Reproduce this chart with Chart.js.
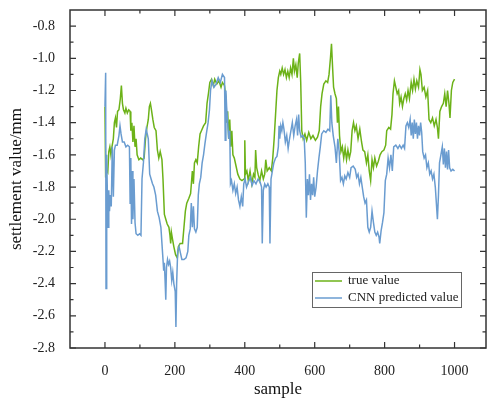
<!DOCTYPE html>
<html>
<head>
<meta charset="utf-8">
<script src="https://cdn.jsdelivr.net/npm/chart.js@4.4.1/dist/chart.umd.min.js"></script>
<style>
html, body { margin: 0; padding: 0; background: #fff; }
</style>
</head>
<body>
<canvas id="chart" width="487" height="401"></canvas>
<script>
const xTicks = [0, 200, 400, 600, 800, 1000];
const yTicks = [-2.8, -2.6, -2.4, -2.2, -2.0, -1.8, -1.6, -1.4, -1.2, -1.0, -0.8];

const trueX = [0, 2, 5, 8, 11, 14, 17, 20, 24, 27, 30, 33, 36, 40, 44, 47, 50, 53, 57, 60, 64, 68, 72, 74, 77, 80, 83, 86, 89, 92, 97, 102, 108, 112, 116, 120, 124, 127, 130, 133, 137, 141, 146, 150, 154, 158, 163,
  166, 170, 174, 178, 183, 186, 188, 190, 193, 197, 202, 207, 210, 215, 222, 226, 230, 234, 240, 245, 250, 253, 256, 260, 264, 268, 272, 276, 282, 288, 292, 296, 300, 305, 310, 314, 320, 326, 332, 336, 342,
  346, 348, 351, 354, 357, 360, 363, 366, 370, 374, 380, 386, 392, 398, 400, 402, 406, 410, 415, 420, 425, 429, 431, 434, 438, 443, 448, 453, 457, 460, 464, 470, 476, 480, 484, 488, 492, 496, 500,
  503, 507, 511, 515, 519, 523, 527, 531, 535, 539, 542, 546, 550, 553, 557, 560, 563, 567, 572, 577, 583, 589, 595, 602, 608, 613, 617, 621, 626, 632, 637, 641, 645, 648, 651, 654, 658, 662, 665, 668, 671,
  675, 679, 683, 687, 691, 695, 699, 703, 707, 711, 715, 719, 724, 729, 734, 738, 743, 748, 752, 756, 760, 764, 768, 772, 777, 782, 787, 792, 798, 803, 806, 812, 817, 821, 824, 828, 832, 836, 840, 843,
  847, 851, 855, 859, 863, 867, 871, 876, 880, 884, 888, 892, 897, 901, 904, 908, 913, 918, 923, 927, 932, 937, 942, 947, 951, 954, 958, 963, 968, 972, 976, 980, 984, 987, 991, 995, 1000];
const trueY = [-1.30, -1.74, -1.70, -1.71, -1.58, -1.55, -1.60, -1.55, -1.50, -1.40, -1.37, -1.43, -1.33, -1.32, -1.25, -1.17, -1.28, -1.32, -1.34, -1.31, -1.34, -1.32, -1.33, -1.45, -1.40, -1.52, -1.42, -1.55, -1.50, -1.60, -1.63, -1.62, -1.63, -1.62, -1.50, -1.43, -1.38, -1.30, -1.28, -1.32, -1.38, -1.43, -1.45, -1.57, -1.62, -1.58, -1.63,
  -1.75, -1.97, -2.00, -2.03, -2.05, -2.10, -2.15, -2.08, -2.12, -2.17, -2.22, -2.24, -2.17, -2.15, -2.15, -2.05, -1.95, -1.90, -1.87, -1.84, -1.70, -1.78, -1.65, -1.63, -1.65, -1.55, -1.47, -1.45, -1.42, -1.40, -1.28, -1.22, -1.15, -1.13, -1.17, -1.13, -1.16, -1.14, -1.18, -1.15, -1.17,
  -1.25, -1.40, -1.33, -1.50, -1.38, -1.55, -1.45, -1.60, -1.62, -1.66, -1.72, -1.75, -1.76, -1.75, -1.51, -1.72, -1.70, -1.76, -1.70, -1.78, -1.72, -1.74, -1.57, -1.68, -1.72, -1.76, -1.70, -1.75, -1.72, -1.63, -1.70, -1.68, -1.70, -1.62, -1.50, -1.35, -1.20, -1.12, -1.08,
  -1.10, -1.06, -1.10, -1.07, -1.12, -1.08, -1.12, -1.06, -1.10, -1.00, -1.08, -1.04, -1.12, -1.03, -0.97, -1.15, -1.45, -1.50, -1.47, -1.51, -1.46, -1.50, -1.48, -1.51, -1.49, -1.45, -1.30, -1.22, -1.16, -1.14, -1.15, -1.10, -1.00, -0.91, -1.05, -1.18, -1.22, -1.25, -1.40, -1.30, -1.48,
  -1.58, -1.55, -1.62, -1.56, -1.63, -1.57, -1.62, -1.58, -1.45, -1.40, -1.45, -1.42, -1.50, -1.44, -1.52, -1.57, -1.58, -1.65, -1.60, -1.70, -1.76, -1.63, -1.68, -1.62, -1.67, -1.64, -1.60, -1.58, -1.57, -1.54, -1.45, -1.43, -1.44, -1.35, -1.22, -1.14, -1.18, -1.22, -1.20, -1.28,
  -1.24, -1.30, -1.25, -1.22, -1.26, -1.20, -1.25, -1.15, -1.20, -1.13, -1.19, -1.14, -1.18, -1.07, -1.10, -1.20, -1.18, -1.24, -1.20, -1.38, -1.40, -1.37, -1.42, -1.38, -1.43, -1.50, -1.33, -1.30, -1.28, -1.22, -1.30, -1.20, -1.28, -1.37, -1.20, -1.15, -1.13];

const predX = [0, 2, 3, 5, 7, 9, 11, 13, 15, 18, 21, 24, 27, 30, 35, 40, 43, 46, 50, 55, 60, 65, 70, 72, 74, 76, 78, 80, 83, 86, 89, 94, 99, 103, 106, 110, 114, 118, 121, 124, 128, 132, 136, 140, 145, 150, 155,
  160, 163, 166, 168, 170, 172, 174, 176, 179, 182, 185, 188, 191, 194, 197, 201, 203, 205, 208, 212, 216, 220, 226, 232, 237, 240, 244, 247, 250, 253, 256, 260, 264, 267, 270, 274, 278, 282, 286, 290, 295, 299, 302, 306, 312, 318, 324, 330, 336, 342,
  344, 346, 348, 351, 354, 357, 359, 362, 366, 370, 374, 378, 382, 386, 390, 394, 397, 401, 405, 410, 416, 421, 426, 432, 438, 444, 448, 450, 453, 457, 461, 466, 470, 472, 475, 479, 483, 488, 492, 496, 498, 500,
  503, 506, 509, 512, 516, 520, 524, 528, 532, 536, 540, 544, 548, 551, 554, 557, 561, 566, 570, 573, 576, 579, 582, 585, 588, 591, 594, 597, 600, 604, 608, 612, 616, 620, 626, 632, 638, 643, 646, 649, 653, 658, 662, 666,
  670, 674, 678, 682, 686, 690, 695, 700, 704, 710, 716, 720, 724, 728, 732, 736, 740, 744, 748, 752, 756, 760, 764, 768, 772, 776, 780, 784, 786, 790, 794, 798, 802, 806, 810, 814, 818, 822, 826, 832, 838, 843,
  848, 853, 857, 861, 865, 869, 873, 876, 879, 882, 885, 888, 891, 894, 897, 900, 903, 906, 909, 913, 917, 921, 925, 929, 933, 937, 941, 945, 948, 951, 954, 957, 961, 965, 968, 971, 974, 977, 980, 983, 986, 990, 995, 1000];
const predY = [-1.30, -1.09, -2.43, -1.60, -1.85, -2.05, -1.82, -1.95, -1.85, -1.92, -1.55, -1.86, -1.57, -1.54, -1.54, -1.48, -1.42, -1.47, -1.52, -1.52, -1.55, -1.54, -1.55, -1.90, -1.62, -2.03, -1.70, -2.00, -1.75, -2.02, -2.09, -2.10, -2.09, -2.10, -1.75, -1.65, -1.50, -1.44, -1.47, -1.50, -1.72, -1.75, -1.78, -1.80, -1.85, -1.95, -1.99,
  -2.05, -2.15, -2.25, -2.32, -2.27, -2.38, -2.50, -2.30, -2.25, -2.28, -2.26, -2.30, -2.38, -2.33, -2.40, -2.45, -2.67, -2.40, -2.20, -2.17, -2.21, -2.25, -2.25, -2.24, -2.20, -2.10, -2.06, -1.90, -2.05, -1.92, -2.06, -2.08, -2.05, -1.85, -1.78, -1.74, -1.65, -1.60, -1.53, -1.47, -1.40, -1.32, -1.20, -1.14, -1.18, -1.16, -1.12, -1.15, -1.10, -1.12,
  -1.51, -1.20, -1.30, -1.40, -1.50, -1.45, -1.78, -1.76, -1.82, -1.78, -1.84, -1.80, -1.88, -1.92, -1.86, -1.92, -1.78, -1.75, -1.80, -1.77, -1.74, -1.79, -1.76, -1.78, -1.75, -1.77, -1.80, -2.15, -1.82, -1.78, -1.80, -1.78, -1.80, -2.15, -1.75, -1.70, -1.65, -1.62, -1.61, -1.55, -1.42, -1.50,
  -1.42, -1.45, -1.40, -1.44, -1.52, -1.48, -1.56, -1.50, -1.45, -1.40, -1.48, -1.42, -1.38, -1.48, -1.35, -1.45, -1.49, -1.48, -1.50, -1.65, -1.99, -1.75, -1.85, -1.72, -1.88, -1.78, -1.85, -1.74, -1.86, -1.80, -1.70, -1.62, -1.55, -1.47, -1.45, -1.46, -1.44, -1.45, -1.23, -1.40, -1.48, -1.55, -1.65, -1.50,
  -1.58, -1.76, -1.74, -1.78, -1.73, -1.75, -1.71, -1.74, -1.68, -1.67, -1.69, -1.74, -1.72, -1.78, -1.74, -1.80, -1.86, -1.90, -1.88, -2.05, -2.08, -2.05, -1.95, -2.02, -2.08, -2.10, -2.08, -2.11, -2.15, -2.07, -2.02, -1.96, -1.76, -1.72, -1.62, -1.68, -1.60, -1.70, -1.55, -1.54, -1.56, -1.54,
  -1.56, -1.54, -1.56, -1.42, -1.40, -1.43, -1.38, -1.48, -1.40, -1.50, -1.38, -1.47, -1.40, -1.50, -1.42, -1.48, -1.40, -1.46, -1.58, -1.62, -1.60, -1.68, -1.65, -1.72, -1.70, -1.75, -1.72, -1.80, -1.90, -2.00, -1.85, -1.65, -1.60, -1.55, -1.66, -1.56, -1.68, -1.58, -1.69, -1.57, -1.68, -1.70, -1.69, -1.70];

const seriesNames = ['true value', 'CNN predicted value'];
const seriesColors = ['#6cb218', '#6a9cd0'];

const serif = 'Liberation Serif, Times New Roman, serif';

// frame, inward ticks on all four sides, and the boxed legend
const framePlugin = {
    id: 'frame',
    afterDatasetsDraw(chart) {
        const { ctx, chartArea: a, scales: { x, y } } = chart;
        ctx.save();
        ctx.strokeStyle = '#333';
        ctx.lineWidth = 1.5;
        ctx.strokeRect(a.left, a.top, a.right - a.left, a.bottom - a.top);

        ctx.lineWidth = 1.2;
        ctx.beginPath();
        for (let v = 0; v <= 1000; v += 100) {
            const p = x.getPixelForValue(v);
            const len = v % 200 === 0 ? 6 : 3.5;
            ctx.moveTo(p, a.bottom); ctx.lineTo(p, a.bottom - len);
            ctx.moveTo(p, a.top); ctx.lineTo(p, a.top + len);
        }
        for (let i = 0; i <= 20; i++) {
            const v = -2.8 + i * 0.1;
            const p = y.getPixelForValue(v);
            const len = i % 2 === 0 ? 6 : 3.5;
            ctx.moveTo(a.left, p); ctx.lineTo(a.left + len, p);
            ctx.moveTo(a.right, p); ctx.lineTo(a.right - len, p);
        }
        ctx.stroke();

        // legend box
        const bx = a.left + 242, by = a.top + 262, bw = 149, bh = 35;
        ctx.fillStyle = '#fff';
        ctx.fillRect(bx, by, bw, bh);
        ctx.strokeStyle = '#666';
        ctx.lineWidth = 1;
        ctx.strokeRect(bx + 0.5, by + 0.5, bw, bh);
        ctx.font = '13px ' + serif;
        ctx.textBaseline = 'middle';
        seriesNames.forEach((name, i) => {
            const ly = by + 9 + i * 17;
            ctx.strokeStyle = seriesColors[i];
            ctx.lineWidth = 1.5;
            ctx.beginPath();
            ctx.moveTo(bx + 3, ly); ctx.lineTo(bx + 30, ly);
            ctx.stroke();
            ctx.fillStyle = '#222';
            ctx.fillText(name, bx + 36, ly);
        });
        ctx.restore();
    }
};

const toPoints = (xs, ys) => xs.map((v, i) => ({ x: v, y: ys[i] }));

new Chart(document.getElementById('chart').getContext('2d'), {
    type: 'line',
    data: {
        datasets: [{
            label: seriesNames[0],
            data: toPoints(trueX, trueY),
            borderColor: seriesColors[0],
            borderWidth: 1.5,
            pointRadius: 0,
            tension: 0,
            order: 1
        }, {
            label: seriesNames[1],
            data: toPoints(predX, predY),
            borderColor: seriesColors[1],
            borderWidth: 1.5,
            pointRadius: 0,
            tension: 0,
            order: 0
        }]
    },
    options: {
        responsive: false,
        animation: false,
        layout: { padding: { top: 10, right: 1, left: 0, bottom: 0 } },
        plugins: { legend: { display: false }, tooltip: { enabled: false } },
        scales: {
            x: {
                type: 'linear',
                min: -100,
                max: 1090,
                afterBuildTicks: (s) => { s.ticks = xTicks.map(v => ({ value: v })); },
                afterFit: (s) => { s.height = 53; s.paddingLeft = 0; s.paddingRight = 0; },
                grid: { display: false },
                border: { display: false },
                ticks: { color: '#222', font: { family: serif, size: 14 }, padding: 7, maxRotation: 0, autoSkip: false, callback: (v) => String(v) },
                title: { display: true, text: 'sample', color: '#111', font: { family: serif, size: 17 }, padding: { top: 4, bottom: 1 } }
            },
            y: {
                min: -2.8,
                max: -0.7,
                afterBuildTicks: (s) => { s.ticks = yTicks.map(v => ({ value: v })); },
                afterFit: (s) => { s.width = 70; s.paddingTop = 0; s.paddingBottom = 0; },
                grid: { display: false },
                border: { display: false },
                ticks: { color: '#222', font: { family: serif, size: 14 }, padding: 7, autoSkip: false, callback: (v) => v.toFixed(1) },
                title: { display: true, text: 'settlement value/mm', color: '#111', font: { family: serif, size: 17 }, padding: { top: 6, bottom: 4 } }
            }
        }
    },
    plugins: [framePlugin]
});
</script>
</body>
</html>
